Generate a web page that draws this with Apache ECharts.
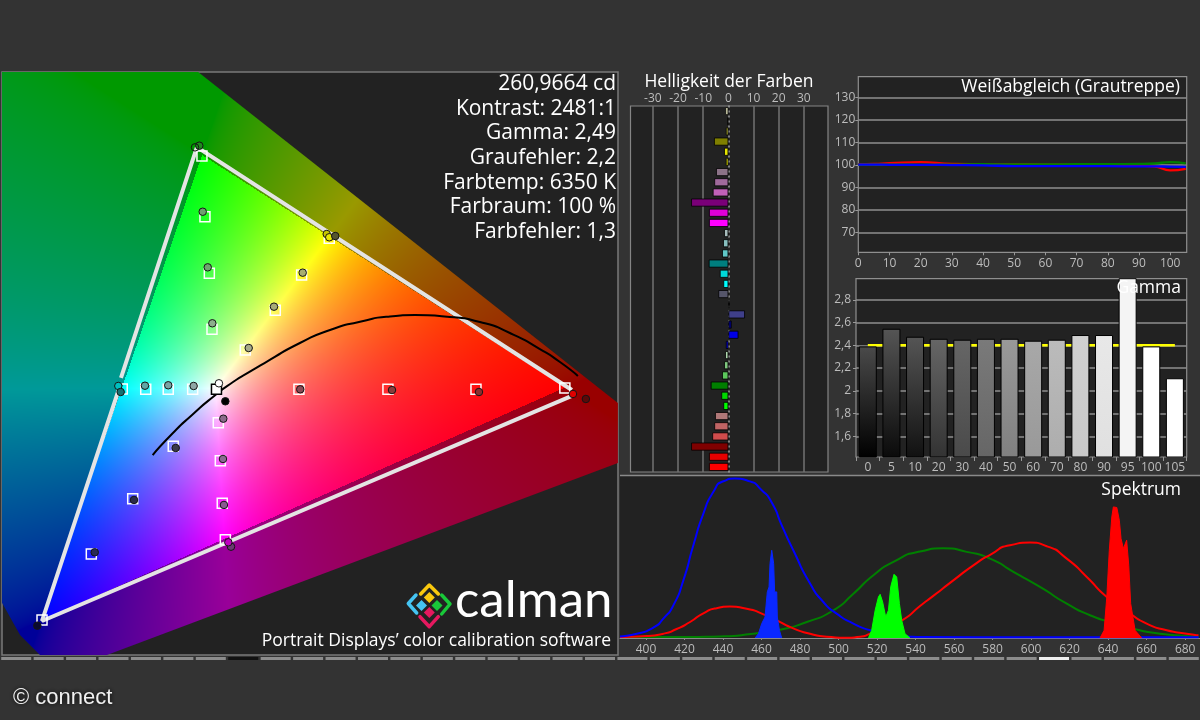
<!DOCTYPE html>
<html>
<head>
<meta charset="utf-8">
<style>html,body{margin:0;padding:0;background:#333333;}#c{width:1200px;height:720px;}</style>
<script src="https://cdn.jsdelivr.net/npm/echarts@6/dist/echarts.min.js"></script>
</head>
<body>
<div id="c"></div>
<script>
// ---- CIE xy chart ----
const outerGamutX = [0.2952, 0.6897, 0.6897, 0.2109, 0.1481, 0.1294, 0.1116, 0.1116];
const outerGamutY = [0.6976, 0.3120, 0.2423, 0.0193, 0.0193, 0.0426, 0.0821, 0.6976];
const gamutLineX = [0.2952, 0.2240, '-', 0.2212, 0.1500, 0.6466, '-', 0.6466, 0.2952];
const gamutLineY = [0.6093, 0.3411, '-', 0.3248, 0.0588, 0.3202, '-', 0.3271, 0.6093];
const locusX = [0.2537,0.2727,0.2906,0.3102,0.3290,0.3468,0.3608,0.3917,0.4199,0.4480,0.4761,0.4995,0.5323,0.5604,0.5885,0.6166,0.6354,0.6522];
const locusY = [0.2516,0.2772,0.2981,0.3190,0.3364,0.3498,0.3602,0.3817,0.3968,0.4064,0.4125,0.4142,0.4119,0.4061,0.3933,0.3747,0.3596,0.3434];
const targetX = [0.2999,0.3027,0.3068,0.3093,0.4192,0.3933,0.3686,0.3405,0.2252,0.2472,0.2683,0.2912,0.3908,0.4742,0.5567,0.6400,0.3152,0.3171,0.3189,0.3218,0.2730,0.2350,0.1962,0.1500];
const targetY = [0.5989,0.5284,0.4627,0.3976,0.5033,0.4607,0.4197,0.3736,0.3283,0.3279,0.3279,0.3279,0.3279,0.3279,0.3279,0.3294,0.2891,0.2450,0.1955,0.1533,0.2617,0.2009,0.1367,0.0600];
const whiteTargetX = [0.3135];
const whiteTargetY = [0.3279];
const measuredX = [0.2974,0.2934,0.3006,0.3053,0.3096,0.3158,0.3218,0.4168,0.4192,0.4248,0.3943,0.3674,0.3437,0.2215,0.2237,0.2465,0.2683,0.2921,0.3920,0.4780,0.5595,0.6597,0.6476,0.3199,0.3196,0.3205,0.3271,0.3246,0.2753,0.2362,0.1994,0.1456];
const measuredY = [0.6109,0.6090,0.5342,0.4696,0.4046,0.3349,0.3140,0.5083,0.5045,0.5060,0.4634,0.4239,0.3759,0.3318,0.3248,0.3321,0.3326,0.3318,0.3279,0.3271,0.3248,0.3167,0.3225,0.2938,0.2470,0.1936,0.1451,0.1502,0.2598,0.1994,0.1386,0.0534];
const measuredColor = ['#1f8a1f','transparent','#6f9f6f','#6fa76f','#8cae8c','#ffffff','#000000','#c8c800','#e8e800','#555530','#a8ae70','#a8ac78','#a8ac8a','#00c0c0','#157070','#5fa6a6','#7aa4a4','#8fa6a6','#8a4a55','#8a3a3a','#8a2e2e','#5a0a0a','#e00000','#8a6a8a','#8a6a92','#8a5a92','#6a3a72','#c000c0','#3a3a4a','#2a2a4a','#2a2a55','#0a0a30'];
const statLines = ['260,9664 cd','Kontrast: 2481:1','Gamma: 2,49','Graufehler: 2,2','Farbtemp: 6350 K','Farbraum: 100 %','Farbfehler: 1,3'];

// ---- Helligkeit der Farben ----
const brightnessValues = [-1.2,-0.5,-1,-5.7,-1.7,-1,-4.9,-5.6,-6.2,-14.8,-7.7,-7.7,-1.7,-2.1,-2.5,-7.8,-3.4,-2,-4,0.5,6.6,1.3,4,-1,-1.3,-1.7,-2.5,-7,-2.8,-2,-5.3,-5.6,-6.4,-14.8,-7.7,-7.7];
const brightnessColors = ['#e6e6c0','#c8c89a','#c9c93a','#7f7f00','#e6e600','#ffff00','#8c7388','#a06a9c','#c060b8','#7a0078','#e000d8','#ff00ff','#a8bcbc','#88c0c0','#60c8c8','#007f7f','#00d8d8','#00ffff','#55556a','#000000','#3f3f8a','#00007f','#0000e6','#0000ff','#b0d8b0','#80c880','#5cc85c','#007f00','#00d800','#00ff00','#b07878','#c06464','#d04c4c','#7f0000','#e60000','#ff0000'];
const brightnessTicks = [-30,-20,-10,10,20,30];
const brightnessLabels = [-30,-20,-10,0,10,20,30];

// ---- Weissabgleich ----
const grayLevels = [0,5,10,20,30,40,50,60,70,80,90,95,100,105];
const whiteRed = [100.3,100.4,100.7,101.2,100.4,100.3,100.2,100.1,100,99.8,99.6,99.3,97.5,98.2];
const whiteGreen = [100.1,100.1,100.1,100,100.1,100.3,100.2,100.2,100.3,100.3,100.4,100.6,101.2,100.7];
const whiteBlue = [100.1,100.1,100,100,99.9,99.8,99.4,99.4,99.4,99.4,99.3,99.3,99.2,99.1];
const whiteXTicks = [0,10,20,30,40,50,60,70,80,90,100];
const whiteYTicks = [70,80,90,100,110,120,130];

// ---- Gamma ----
const gammaCategories = ['0','5','10','20','30','40','50','60','70','80','90','95','100','105'];
const gammaValues = [2.39,2.545,2.475,2.457,2.449,2.457,2.457,2.44,2.449,2.49,2.49,3.2,2.39,2.11];
const gammaTarget = [2.4,2.4,2.4,2.4,2.4,2.4,2.4,2.4,2.4,2.4,2.4,2.4,2.4,2.4];
const gammaTop = ['#4a4a4a','#555555','#555555','#666666','#666666','#7a7a7a','#999999','#a8a8a8','#bbbbbb','#d0d0d0','#e8e8e8','#f4f4f4','#ffffff','#ffffff'];
const gammaBottom = ['#000000','#0a0a0a','#111111','#333333','#4a4a4a','#666666','#808080','#999999','#adadad','#c8c8c8','#e0e0e0','#f4f4f4','#ffffff','#ffffff'];
const gammaTicks = [1.6,1.8,2,2.2,2.4,2.6,2.8];

// ---- Spektrum ----
const blueCurveX = [386.5,395.2,403.8,409,414.2,419.4,424.6,429.8,435,440.2,446.2,453.2,460.1,465.3,470.5,476.5,485.2,492.1,499,507.7,516.4,525,535.4,542.3,600,687];
const blueCurveY = [1,2.7,6.5,12.1,20.4,36,57.9,77.7,91.3,97.9,99.6,98.1,92.3,84.6,70.4,54.8,34,22.5,15.2,9,4.8,2.3,1,0.6,0.5,0.5];
const redCurveX = [386.5,400.3,409,415.9,422.9,429.8,436.7,443.6,452.3,461,467.9,476.5,485.2,493.9,504.2,511.2,516.4,525,533.6,542.3,549.2,559.6,570,578.7,589,599.4,608.1,618.5,628.9,639.3,651.4,660,670.4,680.8,686.9];
const redCurveY = [0.6,1.3,2.7,5.6,10,15.4,18.6,19.6,18.3,14.8,11,6,2.7,0.8,0.2,0.8,2.7,6.9,11.5,20,26.3,36,45.4,52,57.9,59.6,57.3,49.6,38.1,25.6,15.2,9,4.8,2.7,1.7];
const greenCurveX = [386.5,421,438.4,455.8,469.6,483.5,497.3,507.7,518.1,528.5,542.3,554.4,566.5,578.7,590.8,604.6,618.5,630.6,641,653.1,667,680.8,686.9];
const greenCurveY = [0.6,0.6,1,2.7,5.2,10,17.3,27.7,39.2,47.5,54,56,53.8,49.6,41.3,31.9,21.5,14.2,10,5.8,2.7,1.3,0.8];
const blueSpikeX = [456.6,458.4,460.1,461.8,463,463.9,464.4,464.9,465.3,465.8,466.3,466.8,467.9,468.2,469.3,470.5];
const blueSpikeY = [0,2.7,9,13.1,28.8,31.9,46.5,46.5,54.8,54.8,46.5,28.8,28.8,13.1,4.8,0];
const greenSpikeX = [515.5,517.2,519,520.7,521.6,522.9,524.5,525.9,527.1,528.8,530.2,531.6,532.8,534.5,537.1];
const greenSpikeY = [0,4.8,17.3,25.6,27.3,22.5,13.1,17.3,32,39.8,38.1,21.5,11,2.7,0];
const redSpikeX = [635.8,637.9,639.3,640.6,641.9,642.7,644.5,645.8,646.7,647.9,649.6,650.7,651.7,654,657.4];
const redSpikeY = [0,4.8,25.6,54.8,75.6,81.9,81.5,73.6,62.1,55.9,61.1,45.4,21.5,4.8,0];
const spectrumTicks = [400,420,440,460,480,500,520,540,560,580,600,620,640,660,680];

// ---- tab strip ----
const tabSteps = Array.from({length:37},(_, i)=>String(i));
const tabHeight = new Array(37).fill(1);
const tabColors = tabSteps.map(k=> k==='7' ? '#111111' : (k==='32' ? '#eeeeee' : '#8c8c8c'));

const pair = (xs,ys)=>xs.map((x,i)=>[x,ys[i]]);
const FONT = '"Open Sans"';
const cieX0 = 0.1125, cieX1 = 0.6898, cieY0 = 0.0193, cieY1 = 0.6965;
const cieW = 616, cieH = 583;

function buildField(){
  const tmp = document.createElement('canvas'); tmp.width=cieW; tmp.height=cieH;
  const tc = tmp.getContext('2d'); const img = tc.createImageData(cieW,cieH);
  for(let j=0;j<cieH;j++){ for(let i=0;i<cieW;i++){
    const x = cieX0+(i+.5)/cieW*(cieX1-cieX0), y = cieY1-(j+.5)/cieH*(cieY1-cieY0);
    const X=x/y, Y=1, Z=(1-x-y)/y;
    let r= 3.2406*X-1.5372*Y-0.4986*Z, g=-0.9689*X+1.8758*Y+0.0415*Z, b=0.0557*X-0.2040*Y+1.0570*Z;
    const outside = r<0||g<0||b<0;
    r=Math.max(r,0);g=Math.max(g,0);b=Math.max(b,0);
    const m=Math.max(r,g,b,1e-6); r/=m;g/=m;b/=m;
    const k = outside?0.6:1;
    const gam = outside?1/1.6:1;
    const o=(j*cieW+i)*4;
    img.data[o]=255*k*Math.pow(r,gam); img.data[o+1]=255*k*Math.pow(g,gam); img.data[o+2]=255*k*Math.pow(b,gam); img.data[o+3]=255;
  }}
  tc.putImageData(img,0,0);
  const out = document.createElement('canvas'); out.width=cieW; out.height=cieH;
  const c = out.getContext('2d');
  c.beginPath();
  outerGamutX.forEach((x,i)=>{
    const px=(x-cieX0)/(cieX1-cieX0)*cieW, py=(cieY1-outerGamutY[i])/(cieY1-cieY0)*cieH;
    i?c.lineTo(px,py):c.moveTo(px,py);
  });
  c.closePath(); c.clip(); c.drawImage(tmp,0,0);
  return out;
}
const field = buildField();

const axisText = {color:'#bdbdbd',fontSize:12,fontFamily:FONT};
const gridLine = (w,col)=>({show:true,lineStyle:{color:col||'#858585',width:w||1.2}});

function diamond(cx,cy,r,color){return {type:'polygon',shape:{points:[[cx,cy-r],[cx+r,cy],[cx,cy+r],[cx-r,cy]]},style:{fill:color},z:20};}
function chevron(pts,color){return {type:'polyline',shape:{points:pts},style:{stroke:color,lineWidth:3.5,fill:'none',lineJoin:'round',lineCap:'round'},z:20};}
function text(t,x,y,size,align,extra){return {type:'text',x:x,y:y,z:30,style:Object.assign({text:t,fill:'#ffffff',font:size+'px '+FONT,textAlign:align||'left',textVerticalAlign:'middle'},extra||{})};}

const graphics = [
  {type:'line',shape:{x1:620,y1:475.5,x2:1200,y2:475.5},style:{stroke:'#8a8a8a',lineWidth:1.5},z:15},
  text('Helligkeit der Farben',729,82,17.5,'center'),
  text('Weißabgleich (Grautreppe)',1180,87,17.5,'right'),
  text('Gamma',1181,288,17.5,'right'),
  text('Spektrum',1181,490,17.5,'right'),
  chevron([[420.7,594],[429.3,585],[438.3,594]],'#f9c80e'), diamond(429.3,597.5,5.5,'#f9c80e'),
  chevron([[416,595],[408.3,603.5],[416.7,613]],'#45c4f2'), diamond(421.5,605.5,5.5,'#45c4f2'),
  chevron([[441.7,595],[450,604],[441.7,614]],'#19c839'), diamond(437,605.5,5.5,'#19c839'),
  chevron([[420,616.7],[429.3,626.7],[438.3,616.7]],'#e5195f'), diamond(429.3,612.5,5.5,'#e5195f'),
  text('calman',455,601,51,'left',{font:'51px Lato'}),
  text('Portrait Displays’ color calibration software',611,641,17.5,'right'),
  text('© connect',13,698,22,'left',{font:'22px "Liberation Sans"',fill:'#f0f0f0',textShadowColor:'#000',textShadowBlur:5})
];
statLines.forEach((s,i)=>graphics.push(text(s,616,84+i*24.7,21,'right')));

const option = {
  backgroundColor:'#333333',
  animation:false,
  graphic:{elements:graphics},
  grid:[
    {left:2,top:72,width:cieW,height:cieH,show:true,backgroundColor:'#222222',borderColor:'#7a7a7a',borderWidth:1.5},
    {left:630.5,top:106,width:197.5,height:366,show:true,backgroundColor:'#222222',borderColor:'#858585',borderWidth:1.2},
    {left:858.3,top:76.7,width:328.4,height:175.6,show:true,backgroundColor:'#222222',borderColor:'#8f8f8f',borderWidth:1.2},
    {left:856,top:278.7,width:330.7,height:178.3,show:true,backgroundColor:'#222222',borderColor:'#8f8f8f',borderWidth:1.2},
    {left:620,top:476,width:580,height:162,show:true,backgroundColor:'#222222',borderWidth:0},
    {left:-20,top:657,width:1221,height:3}
  ],
  xAxis:[
    {gridIndex:0,type:'value',min:cieX0,max:cieX1,show:false},
    {gridIndex:1,type:'value',position:'top',min:-38.9,max:39.6,
      axisLine:{show:false},axisTick:{show:false,customValues:brightnessTicks},
      axisLabel:Object.assign({customValues:brightnessLabels,margin:1.5,hideOverlap:false,showMinLabel:true,showMaxLabel:true},axisText),
      splitLine:gridLine(1.5,'#737373')},
    {gridIndex:2,type:'value',min:0,max:105.3,
      axisLine:{show:false},axisTick:{show:true,length:3,lineStyle:{color:'#999'},customValues:whiteXTicks},
      axisLabel:Object.assign({customValues:whiteXTicks,margin:5},axisText),splitLine:{show:false}},
    {gridIndex:3,type:'category',data:gammaCategories,boundaryGap:true,
      axisLine:{show:false},axisTick:{show:true,length:4,alignWithLabel:false,lineStyle:{color:'#999'}},
      axisLabel:Object.assign({margin:5,interval:0},axisText),splitLine:{show:false}},
    {gridIndex:4,type:'value',min:386.5,max:687.7,
      axisLine:{show:true,onZero:false,lineStyle:{color:'#8a8a8a',width:1.2}},axisTick:{show:true,length:2,lineStyle:{color:'#8a8a8a'},customValues:spectrumTicks},
      axisLabel:Object.assign({customValues:spectrumTicks,margin:6},axisText),splitLine:{show:false}},
    {gridIndex:5,type:'category',data:tabSteps,show:false}
  ],
  yAxis:[
    {gridIndex:0,type:'value',min:cieY0,max:cieY1,show:false},
    {gridIndex:1,type:'category',inverse:true,data:brightnessValues.map((_,i)=>String(i)),
      axisLine:{show:true,onZero:true,lineStyle:{color:'#a0a0a0',type:[1,4],width:1.5}},axisTick:{show:false},axisLabel:{show:false},splitLine:{show:false},z:1},
    {gridIndex:2,type:'value',min:61.1,max:139.2,
      axisLine:{show:false},axisTick:{show:true,length:3,lineStyle:{color:'#999'},customValues:whiteYTicks},
      axisLabel:Object.assign({customValues:whiteYTicks,margin:3},axisText),splitLine:gridLine(1.5,'#8f8f8f')},
    {gridIndex:3,type:'value',min:1.418,max:2.985,
      axisLine:{show:false},axisTick:{show:true,length:3,lineStyle:{color:'#999'},customValues:gammaTicks},
      axisLabel:Object.assign({customValues:gammaTicks,margin:5,formatter:v=>String(Math.round(v*10)/10).replace('.',',')},axisText),splitLine:gridLine(1.5,'#8f8f8f')},
    {gridIndex:4,type:'value',min:0,max:101.2,show:false},
    {gridIndex:5,type:'value',min:0,max:1,show:false}
  ],
  series:[
    {type:'custom',xAxisIndex:0,yAxisIndex:0,z:1,silent:true,clip:true,data:[[cieX0,cieY1]],
      renderItem:(p,api)=>{const a=api.coord([cieX0,cieY1]);const s=api.size([cieX1-cieX0,cieY1-cieY0]);
        return {type:'image',style:{image:field,x:a[0],y:a[1],width:s[0],height:s[1]}};}},
    {type:'line',xAxisIndex:0,yAxisIndex:0,z:2,showSymbol:false,data:pair(gamutLineX,gamutLineY),connectNulls:false,lineStyle:{color:'#e4e4e4',width:4}},
    {type:'line',xAxisIndex:0,yAxisIndex:0,z:3,showSymbol:false,smooth:0.7,data:pair(locusX,locusY),lineStyle:{color:'#000',width:2}},
    {type:'scatter',xAxisIndex:0,yAxisIndex:0,z:4,symbol:'rect',symbolSize:10,data:pair(targetX,targetY),itemStyle:{color:'transparent',borderColor:'#ffffff',borderWidth:1.5,opacity:1}},
    {type:'scatter',xAxisIndex:0,yAxisIndex:0,z:4,symbol:'rect',symbolSize:10,data:pair(whiteTargetX,whiteTargetY),itemStyle:{color:'#ffffff',borderColor:'#000000',borderWidth:1.5,opacity:1}},
    {type:'scatter',xAxisIndex:0,yAxisIndex:0,z:5,symbolSize:7.5,
      data:measuredX.map((x,i)=>({value:[x,measuredY[i]],itemStyle:{color:measuredColor[i],borderColor:'#151515',borderWidth:1,opacity:1}}))},

    {type:'bar',xAxisIndex:1,yAxisIndex:1,z:3,barWidth:8,
      data:brightnessValues.map((v,i)=>({value:v,itemStyle:{color:brightnessColors[i],borderColor:'#000',borderWidth:0.8}}))},

    {type:'line',xAxisIndex:2,yAxisIndex:2,z:3,showSymbol:false,smooth:true,data:pair(grayLevels,whiteRed),lineStyle:{color:'#ff0000',width:2.3}},
    {type:'line',xAxisIndex:2,yAxisIndex:2,z:4,showSymbol:false,smooth:true,data:pair(grayLevels,whiteGreen),lineStyle:{color:'#008000',width:2.3}},
    {type:'line',xAxisIndex:2,yAxisIndex:2,z:5,showSymbol:false,smooth:true,data:pair(grayLevels,whiteBlue),lineStyle:{color:'#0000ff',width:2.3}},

    {type:'line',xAxisIndex:3,yAxisIndex:3,z:2,showSymbol:false,data:gammaTarget,lineStyle:{color:'#ffff00',width:2.5}},
    {type:'bar',xAxisIndex:3,yAxisIndex:3,z:3,barWidth:18,
      data:gammaValues.map((v,i)=>({value:v,itemStyle:{borderColor:'#000',borderWidth:1,
        color:{type:'linear',x:0,y:0,x2:0,y2:1,colorStops:[{offset:0,color:gammaTop[i]},{offset:1,color:gammaBottom[i]}]}}}))},

    {type:'line',xAxisIndex:4,yAxisIndex:4,z:3,showSymbol:false,smooth:0.7,data:pair(greenCurveX,greenCurveY),lineStyle:{color:'#008000',width:2}},
    {type:'line',xAxisIndex:4,yAxisIndex:4,z:4,showSymbol:false,smooth:0.7,data:pair(redCurveX,redCurveY),lineStyle:{color:'#ff0000',width:2}},
    {type:'line',xAxisIndex:4,yAxisIndex:4,z:5,showSymbol:false,smooth:0.7,data:pair(blueCurveX,blueCurveY),lineStyle:{color:'#0000ff',width:2}},
    {type:'line',xAxisIndex:4,yAxisIndex:4,z:6,showSymbol:false,data:pair(blueSpikeX,blueSpikeY),lineStyle:{color:'#0a28ff',width:1},itemStyle:{color:'#0a28ff'},areaStyle:{color:'#0a28ff',opacity:1}},
    {type:'line',xAxisIndex:4,yAxisIndex:4,z:6,showSymbol:false,data:pair(greenSpikeX,greenSpikeY),lineStyle:{color:'#00ff00',width:1},itemStyle:{color:'#00ff00'},areaStyle:{color:'#00ff00',opacity:1}},
    {type:'line',xAxisIndex:4,yAxisIndex:4,z:6,showSymbol:false,data:pair(redSpikeX,redSpikeY),lineStyle:{color:'#ff0000',width:1},itemStyle:{color:'#ff0000'},areaStyle:{color:'#ff0000',opacity:1}},

    {type:'bar',xAxisIndex:5,yAxisIndex:5,barWidth:30,silent:true,
      data:tabHeight.map((v,i)=>({value:v,itemStyle:{color:tabColors[i]}}))}
  ]
};
const chart = echarts.init(document.getElementById('c'),null,{renderer:'canvas'});
chart.setOption(option);
</script>
</body>
</html>
